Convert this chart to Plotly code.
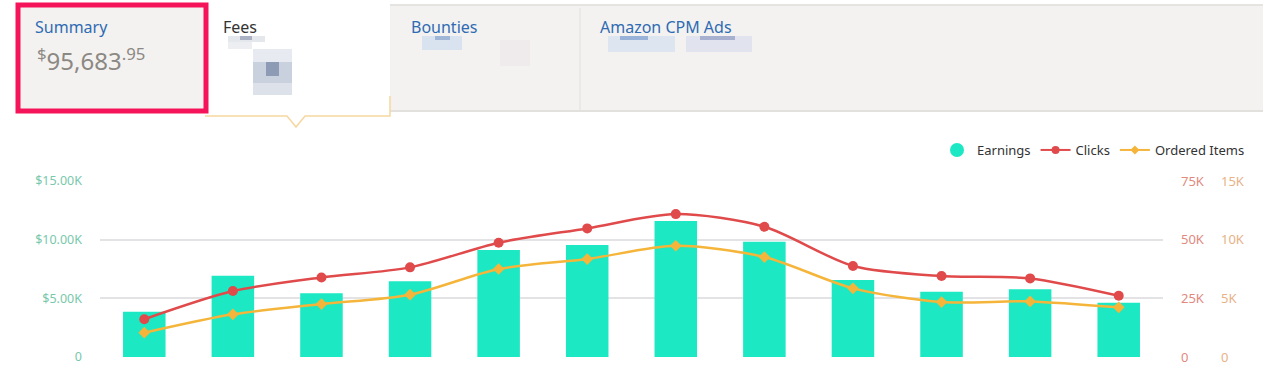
import plotly.graph_objects as go

W, H = 1280, 366

# ---------------- data ----------------
categories = ["Jan", "Feb", "Mar", "Apr", "May", "Jun",
              "Jul", "Aug", "Sep", "Oct", "Nov", "Dec"]
earnings = [3850, 6930, 5430, 6450, 9120, 9540, 11600, 9820, 6560, 5560, 5770, 4630]
clicks = [16100, 28100, 33900, 38200, 48700, 54800, 60900, 55500, 38800, 34500, 33500, 26100]
ordered_items = [2070, 3640, 4510, 5310, 7500, 8350, 9480, 8520, 5850, 4680, 4740, 4230]

left_ticks = [0, 5000, 10000, 15000]
left_tick_text = ["0", "$5.00K", "$10.00K", "$15.00K"]
clicks_ticks = [0, 25000, 50000, 75000]
clicks_tick_text = ["0", "25K", "50K", "75K"]
orders_ticks = [0, 5000, 10000, 15000]
orders_tick_text = ["0", "5K", "10K", "15K"]

summary_title = "Summary"
summary_total = ("$", "95,683", ".95")
tab_titles = ["Fees", "Bounties", "Amazon CPM Ads"]

# ---------------- colours ----------------
TEAL = "#1ce8c3"
RED = "#e04a4b"
ORANGE = "#f5b53a"
FONT = "Noto Sans"


def px(x):
    return x / W


def py(y):
    return 1 - y / H


fig = go.Figure()

fig.add_trace(go.Bar(x=categories, y=earnings, marker=dict(color=TEAL, line=dict(width=0)),
                     showlegend=False, yaxis="y"))
fig.add_trace(go.Scatter(x=categories, y=clicks, mode="lines+markers", yaxis="y2",
                         line=dict(color=RED, width=2.5, shape="spline", smoothing=0.8),
                         marker=dict(color=RED, size=10, symbol="circle"), showlegend=False))
fig.add_trace(go.Scatter(x=categories, y=ordered_items, mode="lines+markers", yaxis="y3",
                         line=dict(color=ORANGE, width=2.5, shape="spline", smoothing=0.8),
                         marker=dict(color=ORANGE, size=9, symbol="diamond"), showlegend=False))

# legend-only entries
fig.add_trace(go.Scatter(x=[None], y=[None], mode="markers", name="Earnings",
                         marker=dict(color=TEAL, size=14, symbol="circle")))
fig.add_trace(go.Scatter(x=[None], y=[None], mode="lines+markers", name="Clicks",
                         line=dict(color=RED, width=2), marker=dict(color=RED, size=8)))
fig.add_trace(go.Scatter(x=[None], y=[None], mode="lines+markers", name="Ordered Items",
                         line=dict(color=ORANGE, width=2),
                         marker=dict(color=ORANGE, size=7, symbol="diamond")))

shapes = []
# gray tab band
shapes.append(dict(type="rect", xref="paper", yref="paper", x0=px(16), x1=px(1263), y0=py(111), y1=py(5),
                   fillcolor="#f3f2f0", line=dict(width=0), layer="below"))
shapes.append(dict(type="line", xref="paper", yref="paper", x0=px(390), x1=px(1263), y0=py(5), y1=py(5),
                   line=dict(color="#e6e4e1", width=2)))
shapes.append(dict(type="line", xref="paper", yref="paper", x0=px(390), x1=px(1263), y0=py(111), y1=py(111),
                   line=dict(color="#e3e1de", width=2)))
shapes.append(dict(type="line", xref="paper", yref="paper", x0=px(580), x1=px(580), y0=py(111), y1=py(8),
                   line=dict(color="#e2e0dd", width=1)))
# Fees tab (white, selected)
shapes.append(dict(type="rect", xref="paper", yref="paper", x0=px(205), x1=px(390), y0=py(116), y1=py(4),
                   fillcolor="#ffffff", line=dict(width=0)))
shapes.append(dict(type="path", xref="paper", yref="paper",
                   path=f"M {px(205)},{py(116)} L {px(287)},{py(116)} L {px(296)},{py(127)} "
                        f"L {px(305)},{py(116)} L {px(390)},{py(116)} L {px(390)},{py(96)}",
                   line=dict(color="#f7d7a0", width=1.5)))
# Summary box with pink border
shapes.append(dict(type="rect", xref="paper", yref="paper", x0=px(18), x1=px(206), y0=py(111), y1=py(5),
                   fillcolor="#f3f2f0", line=dict(color="#f5145a", width=5)))
# blurred (pixelated) values
blur = [
    (228, 265, 36, 42, "#e4e7ec"), (240, 252, 36, 40, "#a9b1c3"), (228, 252, 42, 49, "#eceef2"),
    (253, 292, 49, 62, "#e7eaf0"), (253, 292, 62, 83, "#c9d0de"), (266, 279, 62, 76, "#8e9bb5"),
    (253, 292, 83, 95, "#dde1ea"),
    (422, 462, 36, 50, "#d9e2ef"), (435, 450, 36, 40, "#9fb6d6"), (500, 530, 40, 66, "#efeaeb"),
    (608, 675, 36, 52, "#dde5f0"), (620, 648, 36, 40, "#98b3d7"),
    (686, 752, 36, 52, "#e1e3ee"), (700, 735, 36, 40, "#a8b0d0"),
]
for x0, x1, y0, y1, c in blur:
    shapes.append(dict(type="rect", xref="paper", yref="paper", x0=px(x0), x1=px(x1), y0=py(y1), y1=py(y0),
                       fillcolor=c, line=dict(width=0)))

annotations = []
annotations.append(dict(xref="paper", yref="paper", x=px(33), y=py(27), xanchor="left", yanchor="middle",
                        text=summary_title, showarrow=False, font=dict(family=FONT, size=16, color="#2f6bb3")))
annotations.append(dict(xref="paper", yref="paper", x=px(35), y=py(60), xanchor="left", yanchor="middle",
                        text=f"<sup>{summary_total[0]}</sup>{summary_total[1]}<sup>{summary_total[2]}</sup>",
                        showarrow=False, font=dict(family=FONT, size=24, color="#8c8883")))
tab_x = [221, 409, 598]
tab_colors = ["#333333", "#2f6bb3", "#2f6bb3"]
for t, x, c in zip(tab_titles, tab_x, tab_colors):
    annotations.append(dict(xref="paper", yref="paper", x=px(x), y=py(27), xanchor="left", yanchor="middle",
                            text=t, showarrow=False, font=dict(family=FONT, size=16, color=c)))

fig.update_layout(
    width=W, height=H,
    margin=dict(l=0, r=0, t=0, b=0, autoexpand=False),
    paper_bgcolor="white", plot_bgcolor="white",
    font=dict(family=FONT),
    bargap=0.52,
    showlegend=True,
    legend=dict(orientation="h", x=px(1250), xanchor="right", y=py(150), yanchor="middle",
                font=dict(family=FONT, size=13, color="#333333"), bgcolor="rgba(0,0,0,0)",
                itemwidth=30, tracegroupgap=0),
    xaxis=dict(domain=[px(100), px(1163)], range=[-0.5, len(categories) - 0.5], autorange=False,
               showticklabels=False, showgrid=False, zeroline=False,
               showline=False, ticks="", automargin=False),
    yaxis=dict(domain=[py(357), py(181)], range=[0, 15000], tickvals=left_ticks, ticktext=left_tick_text,
               showgrid=True, gridcolor="#e3e3e6", gridwidth=1.5, zeroline=False, showline=False,
               tickfont=dict(family=FONT, size=12.5, color="#78c8ab"), ticks="", ticklabelstandoff=17,
               automargin=False),
    yaxis2=dict(overlaying="y", side="right", anchor="free", position=px(1180), range=[0, 75000],
                tickvals=clicks_ticks, ticktext=clicks_tick_text, showgrid=False, zeroline=False,
                showline=False, ticks="", tickfont=dict(family=FONT, size=13, color="#e2897e"),
                automargin=False),
    yaxis3=dict(overlaying="y", side="right", anchor="free", position=px(1220), range=[0, 15000],
                tickvals=orders_ticks, ticktext=orders_tick_text, showgrid=False, zeroline=False,
                showline=False, ticks="", tickfont=dict(family=FONT, size=13, color="#e8b287"),
                automargin=False),
    shapes=shapes,
    annotations=annotations,
)

fig.write_html("out.html", config={"displayModeBar": False},
               post_script="document.body.style.margin='0';document.body.style.overflow='hidden';")
